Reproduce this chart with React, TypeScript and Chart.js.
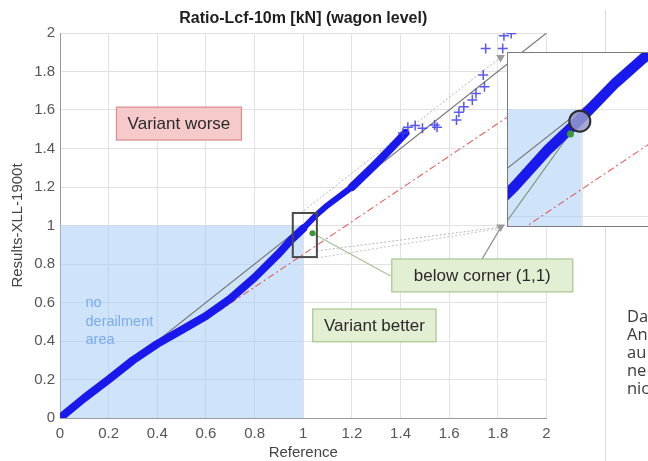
import React, { useEffect, useRef } from "react";
import { Chart, registerables } from "chart.js";

Chart.register(...registerables);

const FONT = '"Liberation Sans", Arial, Helvetica, sans-serif';

const TITLE = "Ratio-Lcf-10m [kN] (wagon level)";
const X_TITLE = "Reference";
const Y_TITLE = "Results-XLL-1900t";

// dense "+" band: reference value vs. variant value
const refValues = [0, 0.1, 0.2, 0.3, 0.4, 0.5, 0.6, 0.7, 0.8, 0.9, 0.95, 1.0, 1.05, 1.09, 1.2, 1.29, 1.36, 1.42];
const variantValues = [0, 0.104, 0.2, 0.3, 0.385, 0.457, 0.53, 0.62, 0.73, 0.855, 0.925, 0.985, 1.05, 1.095, 1.2, 1.31, 1.4, 1.48];

// scattered "+" markers at the top end
const outlierRef = [1.41, 1.43, 1.46, 1.49, 1.54, 1.55, 1.63, 1.64, 1.66, 1.695, 1.71, 1.745, 1.74, 1.75, 1.82, 1.825, 1.855];
const outlierVariant = [1.48, 1.51, 1.52, 1.505, 1.522, 1.51, 1.548, 1.588, 1.617, 1.652, 1.686, 1.721, 1.782, 1.92, 1.92, 1.986, 1.998];

// reference lines
const diagonalX = [0, 2];
const diagonalY = [0, 2];
const limitX = [0.65, 2];
const limitY = [0.5525, 1.7];

// "no derailment area" corner region
const areaX = [0, 1];
const areaY = [1, 1];

// marked point below corner (1,1)
const markMainX = [1.038];
const markMainY = [0.96];
const markInsetX = [0.983];
const markInsetY = [0.954];
const circleInsetX = [0.997];
const circleInsetY = [0.978];
const insetGuideX = [0.889, 0.987];
const insetGuideY = [0.79, 0.963];

// zoom-box connectors and annotation leaders (main axes)
const connTopX = [0.99, 1.811];
const connTopY = [1.065, 1.873];
const connLow1X = [1.056, 1.811];
const connLow1Y = [0.868, 0.992];
const connLow2X = [1.056, 1.811];
const connLow2Y = [0.831, 0.985];
const leaderPointX = [1.038, 1.359];
const leaderPointY = [0.96, 0.738];
const leaderInsetX = [1.733, 1.818];
const leaderInsetY = [0.821, 1.003];
const markerTriX = [1.811, 1.811];
const markerTriY = [1.873, 0.992];

// zoom rectangle (main axes)
const ZOOM_X = [0.957, 1.056];
const ZOOM_Y = [0.836, 1.065];

// inset axis limits and grid values
const INSET_X = [0.8903, 1.128];
const INSET_Y = [0.7806, 1.1064];
const INSET_GRID_X = [1.0];
const INSET_GRID_Y = [0.8, 1.0];

// annotations
const BOX_LABELS = ["Variant worse", "Variant better", "below corner (1,1)"];
const BOX_X0 = [0.232, 1.039, 1.364];
const BOX_X1 = [0.746, 1.546, 2.108];
const BOX_Y0 = [1.444, 0.396, 0.655];
const BOX_Y1 = [1.615, 0.566, 0.826];
const BOX_FILLS = ["#f6c9cb", "#e3efd3", "#e3efd3"];
const BOX_STROKES = ["#de8a8e", "#a8c68e", "#a8c68e"];

const AREA_LABEL_LINES = ["no", "derailment", "area"];
const AREA_LABEL_X = 0.105;
const AREA_LABEL_Y = 0.597;

const SIDE_TEXT = ["Da", "An", "au", "ne", "nic"];

const zip = (xs: number[], ys: number[]) => xs.map((x, i) => ({ x, y: ys[i] }));
const fmt = (v: any) => String(Number(Number(v).toFixed(1)));
// first dataset in the list is drawn at the back
const stack = (list: any[]) => list.map((d, i) => ({ ...d, order: list.length - i }));

const BLUE = "rgb(25,25,238)";

const annotationPlugin = {
  id: "figureAnnotations",
  afterDatasetsDraw(chart: any) {
    const { ctx, scales } = chart;
    const xs = scales.x;
    const ys = scales.y;
    ctx.save();
    const rx0 = xs.getPixelForValue(ZOOM_X[0]);
    const rx1 = xs.getPixelForValue(ZOOM_X[1]);
    const ry0 = ys.getPixelForValue(ZOOM_Y[0]);
    const ry1 = ys.getPixelForValue(ZOOM_Y[1]);
    ctx.strokeStyle = "#4a4a4a";
    ctx.lineWidth = 2;
    ctx.strokeRect(rx0, ry1, rx1 - rx0, ry0 - ry1);

    ctx.font = `14.5px ${FONT}`;
    ctx.fillStyle = "rgb(122,172,240)";
    ctx.textBaseline = "middle";
    ctx.textAlign = "left";
    const ax = xs.getPixelForValue(AREA_LABEL_X);
    const ay = ys.getPixelForValue(AREA_LABEL_Y);
    AREA_LABEL_LINES.forEach((t, i) => ctx.fillText(t, ax, ay + i * 18.5));

    BOX_LABELS.forEach((label, i) => {
      const x0 = xs.getPixelForValue(BOX_X0[i]);
      const x1 = xs.getPixelForValue(BOX_X1[i]);
      const y0 = ys.getPixelForValue(BOX_Y0[i]);
      const y1 = ys.getPixelForValue(BOX_Y1[i]);
      ctx.fillStyle = BOX_FILLS[i];
      ctx.fillRect(x0, y1, x1 - x0, y0 - y1);
      ctx.strokeStyle = BOX_STROKES[i];
      ctx.lineWidth = 1.2;
      ctx.strokeRect(x0, y1, x1 - x0, y0 - y1);
      ctx.fillStyle = "#2a2a2a";
      ctx.font = `17px ${FONT}`;
      ctx.textAlign = "center";
      ctx.textBaseline = "middle";
      ctx.fillText(label, (x0 + x1) / 2, (y0 + y1) / 2 + 1);
    });
    ctx.restore();
  },
};

const insetGridPlugin = {
  id: "insetGrid",
  beforeDatasetsDraw(chart: any) {
    const { ctx, scales, chartArea } = chart;
    ctx.save();
    ctx.strokeStyle = "#e4e4e4";
    ctx.lineWidth = 1;
    INSET_GRID_X.forEach((v) => {
      const p = Math.round(scales.x.getPixelForValue(v)) + 0.5;
      ctx.beginPath();
      ctx.moveTo(p, chartArea.top);
      ctx.lineTo(p, chartArea.bottom);
      ctx.stroke();
    });
    INSET_GRID_Y.forEach((v) => {
      const p = Math.round(scales.y.getPixelForValue(v)) + 0.5;
      ctx.beginPath();
      ctx.moveTo(chartArea.left, p);
      ctx.lineTo(chartArea.right, p);
      ctx.stroke();
    });
    ctx.restore();
  },
};

const lineDs = (data: any[], color: string, width: number, dash: number[] = []) => ({
  type: "line",
  data,
  borderColor: color,
  borderWidth: width,
  borderDash: dash,
  pointRadius: 0,
  fill: false,
  showLine: true,
  tension: 0,
});

export default function App() {
  const mainRef = useRef<HTMLCanvasElement>(null);
  const insetRef = useRef<HTMLCanvasElement>(null);

  useEffect(() => {
    const areaDs = {
      type: "line",
      data: zip(areaX, areaY),
      borderWidth: 0,
      pointRadius: 0,
      fill: "start",
      backgroundColor: "rgba(160,200,245,0.5)",
      showLine: true,
    };
    const bandData = zip(refValues, variantValues);

    const main = new Chart(mainRef.current as HTMLCanvasElement, {
      type: "scatter",
      data: {
        datasets: stack([
          areaDs,
          lineDs(zip(diagonalX, diagonalY), "#7a7a7a", 1.2),
          lineDs(zip(limitX, limitY), "rgba(228,70,70,0.85)", 1.1, [7, 3, 2, 3]),
          lineDs(zip(connTopX, connTopY), "#b4b4b4", 1, [2, 2]),
          lineDs(zip(connLow1X, connLow1Y), "#b4b4b4", 1, [2, 2]),
          lineDs(zip(connLow2X, connLow2Y), "#c4c4c4", 1, [2, 2]),
          lineDs(zip(leaderPointX, leaderPointY), "#a6c096", 1.2),
          lineDs(zip(leaderInsetX, leaderInsetY), "#8a8a8a", 1.2),
          {
            ...lineDs(bandData, BLUE, 8),
            borderCapStyle: "round",
            borderJoinStyle: "round",
            segment: {
              borderWidth: (c: any) => (c.p0.parsed.x >= 1.0 && c.p0.parsed.x < 1.2 ? 6 : 8),
            },
          },
          {
            type: "scatter",
            data: zip(outlierRef, outlierVariant),
            pointStyle: "cross",
            pointRadius: 5,
            borderColor: "rgba(60,60,240,0.85)",
            borderWidth: 1.5,
            showLine: false,
          },
          {
            type: "scatter",
            data: zip(markMainX, markMainY),
            pointRadius: 3,
            backgroundColor: "rgb(60,150,50)",
            borderWidth: 0,
          },
          {
            type: "scatter",
            data: zip(markerTriX, markerTriY),
            pointStyle: "triangle",
            rotation: 180,
            pointRadius: 5,
            backgroundColor: "#9a9a9a",
            borderWidth: 0,
          },
        ]) as any,
      },
      options: {
        responsive: false,
        animation: false,
        devicePixelRatio: 1,
        layout: { autoPadding: false, padding: { left: 0, right: 101.5, top: 0, bottom: 0 } },
        plugins: {
          legend: { display: false },
          tooltip: { enabled: false },
          title: {
            display: true,
            text: TITLE,
            fullSize: false,
            color: "#1e1e1e",
            font: { family: FONT, size: 16, weight: "bold", lineHeight: 1.2 },
            padding: { top: 9, bottom: 4.8 },
          },
        },
        scales: {
          x: {
            type: "linear",
            min: 0,
            max: 2,
            ticks: {
              stepSize: 0.2,
              callback: fmt,
              color: "#555",
              font: { family: FONT, size: 15 },
              padding: 7,
              maxRotation: 0,
              autoSkip: false,
            },
            grid: { color: "#e2e2e2", drawTicks: false },
            border: { color: "#9a9a9a" },
            title: {
              display: true,
              text: X_TITLE,
              color: "#444",
              font: { family: FONT, size: 15, lineHeight: 1.1 },
              padding: { top: 0, bottom: 0 },
            },
            afterFit: (s: any) => {
              s.height = 43;
            },
          },
          y: {
            type: "linear",
            min: 0,
            max: 2,
            ticks: {
              stepSize: 0.2,
              callback: fmt,
              color: "#555",
              font: { family: FONT, size: 15 },
              padding: 5,
              autoSkip: false,
            },
            grid: { color: "#e2e2e2", drawTicks: false },
            border: { color: "#9a9a9a" },
            title: {
              display: true,
              text: Y_TITLE,
              color: "#444",
              font: { family: FONT, size: 15, lineHeight: 1.2 },
              padding: { top: 9, bottom: 0 },
            },
            afterFit: (s: any) => {
              s.width = 60;
            },
          },
        },
      } as any,
      plugins: [annotationPlugin],
    });

    const inset = new Chart(insetRef.current as HTMLCanvasElement, {
      type: "scatter",
      data: {
        datasets: stack([
          areaDs,
          lineDs(zip(diagonalX, diagonalY), "#7a7a7a", 1.2),
          lineDs(zip(limitX, limitY), "rgba(228,70,70,0.85)", 1.1, [7, 3, 2, 3]),
          lineDs(zip(insetGuideX, insetGuideY), "rgba(110,140,100,0.85)", 1.1),
          {
            ...lineDs(bandData, BLUE, 10.5),
            borderCapStyle: "round",
            borderJoinStyle: "round",
          },
          {
            type: "scatter",
            data: zip(markInsetX, markInsetY),
            pointRadius: 3.5,
            backgroundColor: "rgb(60,150,50)",
            borderWidth: 0,
          },
          {
            type: "scatter",
            data: zip(circleInsetX, circleInsetY),
            pointRadius: 10.5,
            backgroundColor: "rgba(150,155,205,0.85)",
            borderColor: "#2b2b2b",
            borderWidth: 2,
          },
        ]) as any,
      },
      options: {
        responsive: false,
        animation: false,
        devicePixelRatio: 1,
        layout: { autoPadding: false, padding: 0 },
        plugins: { legend: { display: false }, tooltip: { enabled: false }, title: { display: false } },
        scales: {
          x: { type: "linear", display: false, min: INSET_X[0], max: INSET_X[1] },
          y: { type: "linear", display: false, min: INSET_Y[0], max: INSET_Y[1] },
        },
      } as any,
      plugins: [insetGridPlugin],
    });

    return () => {
      main.destroy();
      inset.destroy();
    };
  }, []);

  return (
    <div
      style={{
        position: "fixed",
        left: 0,
        top: 0,
        width: 648,
        height: 461,
        overflow: "hidden",
        background: "#fff",
      }}
    >
      <canvas ref={mainRef} width={648} height={461} style={{ position: "absolute", left: 0, top: 0, display: "block" }} />
      <div style={{ position: "absolute", left: 605, top: 10, width: 1, height: 451, background: "#dadada" }} />
      <div
        style={{
          position: "absolute",
          left: 507,
          top: 52,
          width: 160,
          height: 173,
          border: "1.5px solid #7a7a7a",
          background: "#fff",
        }}
      >
        <canvas ref={insetRef} width={160} height={173} style={{ display: "block" }} />
      </div>
      <div
        style={{
          position: "absolute",
          left: 627,
          top: 307,
          fontFamily: '"Open Sans", "Noto Sans", sans-serif',
          fontSize: 16.5,
          lineHeight: "18px",
          color: "#3a3a3a",
          whiteSpace: "pre",
        }}
      >
        {SIDE_TEXT.join("\n")}
      </div>
    </div>
  );
}
